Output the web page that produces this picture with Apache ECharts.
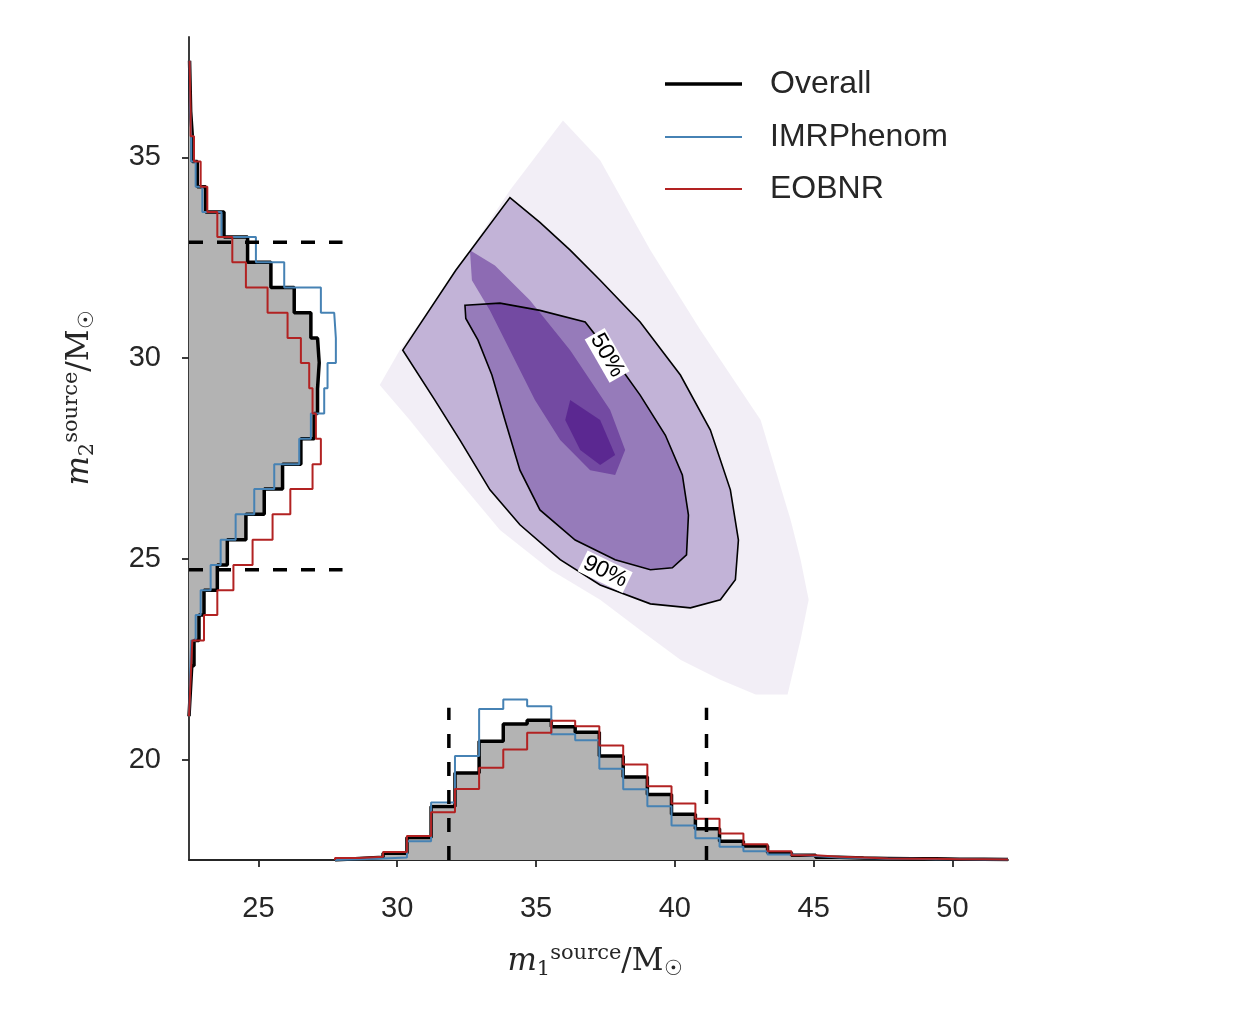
<!DOCTYPE html>
<html><head><meta charset="utf-8">
<script src="https://cdn.jsdelivr.net/npm/echarts@6/dist/echarts.min.js"></script>
<style>html,body{margin:0;padding:0;background:#fff}#c{width:1260px;height:1010px}</style>
</head><body><div id="c"></div>
<script>
// ---- data ----
const m1Edges=[27.76,28.63,29.49,30.35,31.22,32.08,32.95,33.82,34.68,35.55,36.41,37.28,38.14,39.01,39.88,40.74,41.61,42.47,43.34,44.20,45.07,45.93,46.80,47.67,48.53,49.40,50.26,51.13,52.0];
const m1Overall=[0.04,0.07,0.17,0.56,1.33,2.17,2.96,3.39,3.48,3.32,3.18,2.59,2.07,1.63,1.14,0.78,0.47,0.35,0.18,0.12,0.07,0.05,0.04,0.03,0.03,0.02,0.02,0.01];
const m1EOB=[0.05,0.08,0.20,0.60,1.19,1.77,2.30,2.75,3.17,3.47,3.33,2.85,2.38,1.84,1.41,1.03,0.66,0.39,0.22,0.12,0.08,0.06,0.04,0.03,0.03,0.02,0.02,0.01];
const m1IMR=[0.02,0.04,0.06,0.47,1.43,2.59,3.76,4.00,3.83,3.13,2.98,2.27,1.76,1.34,0.86,0.54,0.33,0.22,0.14,0.10,0.06,0.05,0.03,0.03,0.02,0.02,0.01,0.01];
const m2Edges=[21.08,21.71,22.34,22.97,23.60,24.22,24.85,25.48,26.11,26.74,27.36,27.99,28.62,29.25,29.88,30.50,31.13,31.76,32.39,33.02,33.64,34.27,34.90,35.53,36.15,36.78,37.41];
const m2Overall=[0.05,0.10,0.18,0.36,0.54,1.02,1.38,2.05,2.71,3.37,4.03,4.51,4.63,4.69,4.63,4.39,3.79,2.95,2.11,1.26,0.60,0.30,0.12,0.06,0.04,0.02];
const m2EOB=[0.04,0.08,0.12,0.54,1.02,1.60,2.29,3.01,3.65,4.45,4.75,4.57,4.45,4.33,4.03,3.55,2.83,2.05,1.56,1.02,0.66,0.42,0.18,0.06,0.04,0.02];
const m2IMR=[0.03,0.05,0.08,0.24,0.42,0.78,1.14,1.68,2.35,3.07,3.97,4.39,4.87,4.99,5.29,5.23,4.75,3.43,2.41,1.17,0.48,0.24,0.08,0.04,0.03,0.02];
const m1Bounds=[31.86,41.14];
const m2Bounds=[24.73,32.89];
const outerRegion=[[35.97,35.92],[37.31,34.93],[39.12,32.69],[40.92,30.70],[43.09,28.46],[43.63,27.21],[44.17,25.97],[44.53,24.98],[44.82,23.98],[44.53,22.99],[44.06,21.62],[42.91,21.62],[41.64,21.99],[40.20,22.49],[38.75,23.23],[37.31,23.98],[35.51,24.73],[33.70,25.72],[31.90,27.21],[30.45,28.46],[29.37,29.33],[30.09,30.20],[31.90,31.94],[34.06,34.18]];
const contour90=[[34.06,34.00],[35.14,33.38],[36.23,32.69],[37.31,31.94],[38.75,30.90],[40.20,29.58],[41.28,28.21],[42.00,26.72],[42.29,25.47],[42.18,24.48],[41.64,23.98],[40.56,23.78],[39.12,23.88],[37.31,24.35],[35.87,24.98],[34.42,25.85],[33.34,26.72],[32.26,27.96],[31.35,28.96],[30.20,30.20],[32.11,32.19]];
const contour50=[[32.44,31.32],[33.70,31.37],[35.14,31.19],[36.77,30.90],[37.85,29.95],[38.75,29.08],[39.66,28.08],[40.27,27.09],[40.49,26.09],[40.42,25.10],[39.91,24.78],[39.12,24.73],[37.85,24.98],[36.41,25.47],[35.14,26.22],[34.42,27.21],[33.88,28.46],[33.41,29.58],[32.91,30.45],[32.47,30.99]];
const core=[[32.62,32.69],[33.52,32.31],[34.78,31.44],[36.23,30.20],[37.67,28.71],[38.21,27.71],[37.85,27.09],[36.95,27.21],[35.87,27.96],[34.96,28.96],[34.06,30.20],[33.34,31.19],[32.69,31.94]];
const inner=[[36.23,28.96],[37.31,28.46],[37.85,27.59],[37.31,27.34],[36.59,27.71],[36.05,28.46]];
const labels=[{text:'50%',pos:[37.56,30.07],rot:-1.05},{text:'90%',pos:[37.49,24.68],rot:-0.45}];
const xTicks=[25,30,35,40,45,50], yTicks=[20,25,30,35];
const xMin=22.5,xMax=52,yMin=17.5,yMax=38;
const dashEndM1=28.03, dashEndM2=21.29;

// ---- helpers ----
function stepBottom(edges,vals){const p=[[edges[0],yMin]];vals.forEach((v,i)=>{p.push([edges[i],yMin+v]);p.push([edges[i+1],yMin+v]);});p.push([edges[edges.length-1],yMin]);return p;}
function stepLeft(edges,vals){const p=[[xMin,edges[0]]];vals.forEach((v,i)=>{p.push([xMin+v,edges[i]]);p.push([xMin+v,edges[i+1]]);});p.push([xMin,edges[edges.length-1]]);return p;}
function lineS(pts,color,w,z,dash){return {type:'line',data:pts,showSymbol:false,symbol:'none',silent:true,animation:false,z:z,lineStyle:{color:color,width:w,type:dash||'solid'}};}
function poly(pts,style,z){return {type:'custom',renderItem:(params,api)=>({type:'polygon',shape:{points:pts.map(p=>api.coord(p))},style:style}),data:[0],z:z,silent:true,animation:false,clip:true};}
const purple='84,39,143';
const series=[
 poly(outerRegion,{fill:'rgba('+purple+',0.08)'},1),
 poly(contour90,{fill:'rgba('+purple+',0.3)'},2),
 poly(contour50,{fill:'rgba('+purple+',0.4)'},3),
 poly(core,{fill:'rgba(63,0,125,0.4)'},4),
 poly(inner,{fill:'rgba(63,0,125,0.45)'},5),
 poly(contour90,{fill:'none',stroke:'#000',lineWidth:1.6},6),
 poly(contour50,{fill:'none',stroke:'#000',lineWidth:1.6},6),
 {type:'custom',data:labels.map((l,i)=>i),z:7,silent:true,animation:false,renderItem:(params,api)=>{const l=labels[params.dataIndex];const c=api.coord(l.pos);return {type:'text',x:c[0],y:c[1],rotation:l.rot,style:{text:l.text,fontSize:23,fontFamily:'Liberation Sans',fill:'#000',align:'center',verticalAlign:'middle',backgroundColor:'#fff',padding:[0,2]}};}},
 poly(stepBottom(m1Edges,m1Overall),{fill:'#b3b3b3'},8),
 poly(stepLeft(m2Edges,m2Overall),{fill:'#b3b3b3'},8),
 lineS(stepBottom(m1Edges,m1Overall),'#000',3.5,9),
 lineS(stepLeft(m2Edges,m2Overall),'#000',3.5,9),
 lineS(stepBottom(m1Edges,m1IMR),'#4682b4',2,10),
 lineS(stepLeft(m2Edges,m2IMR),'#4682b4',2,10),
 lineS(stepBottom(m1Edges,m1EOB),'#b22222',2,10),
 lineS(stepLeft(m2Edges,m2EOB),'#b22222',2,10),
 lineS([[m1Bounds[0],yMin],[m1Bounds[0],dashEndM2]],'#000',3.5,11,[14,14]),
 lineS([[m1Bounds[1],yMin],[m1Bounds[1],dashEndM2]],'#000',3.5,11,[14,14]),
 lineS([[xMin,m2Bounds[0]],[dashEndM1,m2Bounds[0]]],'#000',3.5,11,[14,14]),
 lineS([[xMin,m2Bounds[1]],[dashEndM1,m2Bounds[1]]],'#000',3.5,11,[14,14])
];
const axisCommon={type:'value',splitLine:{show:false},axisLine:{show:true,lineStyle:{color:'#262626',width:1.8}},axisTick:{show:true,length:7,lineStyle:{color:'#262626',width:1.8}},axisLabel:{color:'#262626',fontSize:29,fontFamily:'Liberation Sans',margin:28}};
const chart=echarts.init(document.getElementById('c'));
const legendItems=[['Overall','#000',3.5,84],['IMRPhenom','#4682b4',2,137],['EOBNR','#b22222',2,189]];
const graphic=[];
legendItems.forEach(it=>{graphic.push({type:'line',shape:{x1:665,y1:it[3],x2:742,y2:it[3]},style:{stroke:it[1],lineWidth:it[2]}});graphic.push({type:'text',x:770,y:it[3],style:{text:it[0],fontSize:32,fontFamily:'Liberation Sans',fill:'#262626',verticalAlign:'middle'}});});
const rich={i:{fontFamily:'DejaVu Serif',fontStyle:'italic',fontSize:31,fill:'#262626'},sub:{fontFamily:'DejaVu Serif',fontSize:21,verticalAlign:'bottom',padding:[14,0,0,0]},sup:{fontFamily:'DejaVu Serif',fontSize:21,padding:[0,0,16,0]},n:{fontFamily:'DejaVu Serif',fontSize:31}};
graphic.push({type:'text',x:595,y:962,style:{text:'{i|m}{sub|1}{sup|source}{n|/M}{sub|☉}',rich:rich,align:'center',verticalAlign:'middle',fill:'#262626'}});
graphic.push({type:'text',x:80,y:398,rotation:Math.PI/2,style:{text:'{i|m}{sub|2}{sup|source}{n|/M}{sub|☉}',rich:rich,align:'center',verticalAlign:'middle',fill:'#262626'}});
chart.setOption({animation:false,
 grid:{left:189,right:252,top:37,bottom:150},
 xAxis:Object.assign({},axisCommon,{min:xMin,max:xMax,axisLabel:Object.assign({},axisCommon.axisLabel,{customValues:xTicks,margin:34}),axisTick:Object.assign({},axisCommon.axisTick,{customValues:xTicks})}),
 yAxis:Object.assign({},axisCommon,{min:yMin,max:yMax,axisLabel:Object.assign({},axisCommon.axisLabel,{customValues:yTicks}),axisTick:Object.assign({},axisCommon.axisTick,{customValues:yTicks})}),
 series:series,graphic:graphic});
</script></body></html>
